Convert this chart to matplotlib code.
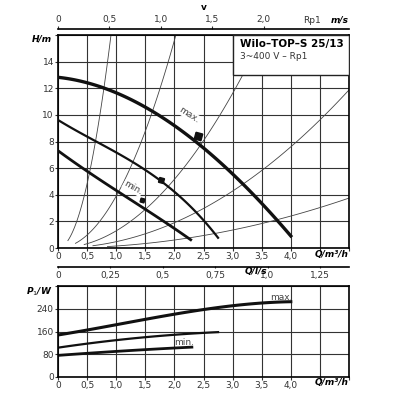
import numpy as np
import matplotlib.pyplot as plt

# pump curves H(Q)
q_max = [0, 0.5, 1.0, 1.5, 2.0, 2.5, 3.0, 3.5, 4.0]
h_max = [12.9, 12.3, 11.6, 10.6, 9.3, 7.6, 5.5, 3.2, 1.0]
q_mid = [0, 0.5, 1.0, 1.5, 2.0, 2.5, 2.75]
h_mid = [9.6, 8.4, 7.2, 5.8, 4.2, 2.2, 0.7]
q_min = [0, 0.5, 1.0, 1.5, 2.0, 2.28]
h_min = [7.3, 5.8, 4.3, 2.9, 1.5, 0.6]

# power curves P1(Q)
pq_max = [0, 0.5, 1.0, 1.5, 2.0, 2.5, 3.0, 3.5, 4.0]
p_max = [148, 165, 183, 203, 222, 237, 250, 260, 265]
pq_mid = [0, 1.0, 2.0, 2.75]
p_mid = [103, 130, 148, 158]
pq_min = [0, 1.0, 2.0, 2.3]
p_min = [76, 90, 102, 105]

# system curve coefficients H = k*Q^2 and their start flow
sys_k = [19.3, 3.9, 1.29, 0.475, 0.15]
sys_q0 = [0.17, 0.3, 0.45, 0.6, 0.85]

fs = 6.5


def smooth(x, y, deg=3):
    # smooth the read points with a low order fit for drawing
    c = np.polyfit(x, y, min(deg, len(x) - 1))
    xs = np.linspace(x[0], x[-1], 100)
    return xs, np.polyval(c, xs)


fig = plt.figure(figsize=(4, 4), dpi=100)
ax = fig.add_axes([0.145, 0.38, 0.7275, 0.5325])
ax2 = fig.add_axes([0.145, 0.0575, 0.7275, 0.2275])

for a in (ax, ax2):
    a.set_xlim(0, 5)
    a.set_xticks(np.arange(0, 5.01, 0.5))
    a.set_xticklabels(['0', '0,5', '1,0', '1,5', '2,0', '2,5', '3,0', '3,5', '4,0', '', ''])
    a.grid(True, color='#333333', lw=0.8)
    a.tick_params(labelsize=fs, length=2, colors='#333333', pad=1)
    for s in a.spines.values():
        s.set_linewidth(1.2)
    a.text(1.0, -0.01, 'Q/m³/h', transform=a.transAxes, ha='right', va='top',
           fontsize=fs, style='italic', fontweight='bold')

# top panel
ax.set_ylim(0, 16)
ax.set_yticks(range(0, 17, 2))
ax.set_yticklabels(['0', '2', '4', '6', '8', '10', '12', '14', ''])
ax.text(-0.02, 1.0, 'H/m', transform=ax.transAxes, ha='right', va='top',
        fontsize=fs, style='italic', fontweight='bold')

for k, q0 in zip(sys_k, sys_q0):
    q = np.linspace(q0, min(5, np.sqrt(16 / k)), 100)
    ax.plot(q, k * q ** 2, color='#444444', lw=0.6, zorder=2)

box = plt.Rectangle((3.0, 13.0), 2.0, 3.0, facecolor='white', edgecolor='#222222', lw=1, zorder=3)
ax.add_patch(box)
ax.text(3.12, 15.3, 'Wilo–TOP–S 25/13', fontsize=7.5, fontweight='bold', va='center', zorder=4)
ax.text(3.12, 14.4, '3~400 V – Rp1', fontsize=fs, va='center', color='#333333', zorder=4)

ax.plot(*smooth(q_max, h_max), color='#111111', lw=2.4, zorder=5)
ax.plot(*smooth(q_mid, h_mid), color='#111111', lw=1.6, zorder=5)
ax.plot(*smooth(q_min, h_min), color='#111111', lw=2.0, zorder=5)
ax.plot([2.4], [8.4], marker=(4, 0, 30), ms=7, color='#111111', zorder=6)
ax.plot([1.77], [5.1], marker=(4, 0, 30), ms=5, color='#111111', zorder=6)
ax.plot([1.45], [3.6], marker=(4, 0, 30), ms=4, color='#111111', zorder=6)
ax.text(2.05, 9.4, 'max.', fontsize=fs, rotation=-33, color='#444444', zorder=6,
        bbox=dict(facecolor='white', edgecolor='none', pad=0.3))
ax.text(1.1, 4.0, 'min.', fontsize=fs, rotation=-30, color='#444444', zorder=6,
        bbox=dict(facecolor='white', edgecolor='none', pad=0.3))

# top velocity axis
v_per_q = 1 / 1.767
top = ax.secondary_xaxis(1.03, functions=(lambda q: q * v_per_q, lambda v: v / v_per_q))
top.set_xticks([0, 0.5, 1.0, 1.5, 2.0])
top.set_xticklabels(['0', '0,5', '1,0', '1,5', '2,0'])
top.tick_params(labelsize=fs, length=2, colors='#333333', pad=1)
top.spines['top'].set_linewidth(1.2)
ax.text(0.873, 1.07, 'Rp1', transform=ax.transAxes, fontsize=fs, color='#333333',
        ha='center', va='center')
ax.text(1.0, 1.07, 'm/s', transform=ax.transAxes, fontsize=fs, ha='right', va='center',
        style='italic', fontweight='bold')
ax.text(0.5, 1.13, 'v', transform=ax.transAxes, fontsize=fs, ha='center', va='center', fontweight='bold')

# bottom panel
ax2.set_ylim(0, 320)
ax2.set_yticks([0, 80, 160, 240, 320])
ax2.set_yticklabels(['0', '80', '160', '240', ''])
ax2.text(-0.02, 1.0, 'P$_1$/W', transform=ax2.transAxes, ha='right', va='top',
         fontsize=fs, style='italic', fontweight='bold')
ax2.plot(*smooth(pq_max, p_max), color='#111111', lw=2.2)
ax2.plot(*smooth(pq_mid, p_mid, 2), color='#111111', lw=1.6)
ax2.plot(*smooth(pq_min, p_min, 2), color='#111111', lw=2.0)
ax2.text(3.65, 270, 'max.', fontsize=fs, color='#444444')
ax2.text(2.0, 112, 'min.', fontsize=fs, color='#444444')

# flow axis in l/s between the panels, labels below its line
ax3 = fig.add_axes([0.145, 0.3325, 0.7275, 0.0001])
ax3.set_xlim(0, 5 / 3.6)
ax3.set_yticks([])
for s in ('left', 'right', 'top'):
    ax3.spines[s].set_visible(False)
ax3.spines['bottom'].set_linewidth(1.2)
ax3.set_xticks([0, 0.25, 0.5, 0.75, 1.0, 1.25])
ax3.set_xticklabels(['0', '0,25', '0,5', '0,75', '1,0', '1,25'])
ax3.tick_params(labelsize=fs, length=2, colors='#333333', pad=2, direction='inout')
ax3.text(1.0, -9, 'Q/l/s', transform=ax3.get_xaxis_transform(), fontsize=fs, ha='right', va='top',
         style='italic', fontweight='bold')
ax3.annotate('Q/l/s', xy=(1.0, 0), xycoords='axes fraction', xytext=(0, -3),
             textcoords='offset points', fontsize=fs, ha='right', va='top',
             style='italic', fontweight='bold', color='none')

fig.savefig('out.png', dpi=100)
